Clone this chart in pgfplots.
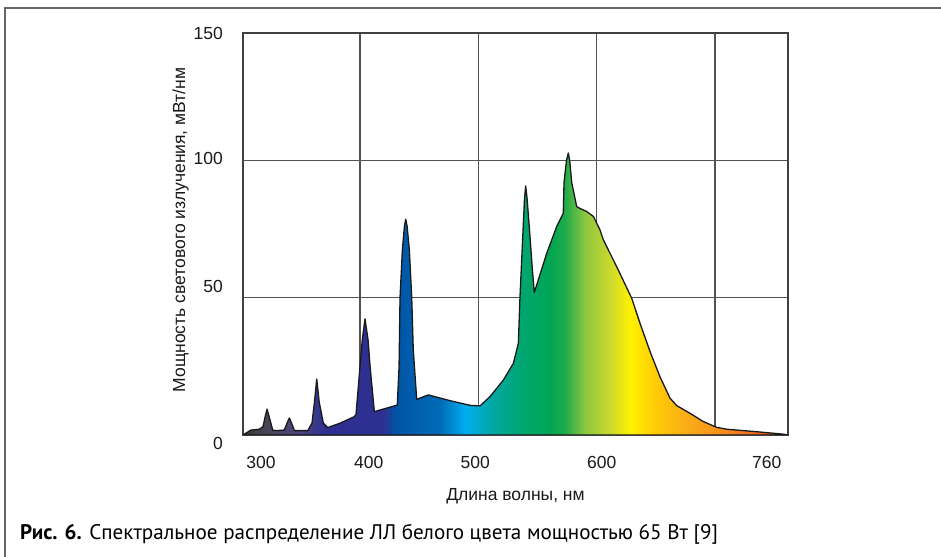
\documentclass[border=0pt]{standalone}
\usepackage{pgfplots}
\pgfplotsset{compat=1.18}
\usepackage{fontspec}
\setmainfont{Liberation Sans}
\newfontfamily\capfont{PT Sans}

\pgfdeclarehorizontalshading{spectrum}{100bp}{%
rgb(0bp)=(0.22,0.22,0.24);
rgb(25bp)=(0.22,0.22,0.24);
rgb(27bp)=(0.28,0.27,0.33);
rgb(30.2bp)=(0.29,0.27,0.50);
rgb(32.5bp)=(0.18,0.19,0.57);
rgb(37.9bp)=(0.18,0.19,0.57);
rgb(39bp)=(0.00,0.33,0.65);
rgb(43.1bp)=(0.00,0.42,0.72);
rgb(45.4bp)=(0.00,0.68,0.94);
rgb(47.7bp)=(0.00,0.66,0.66);
rgb(50.4bp)=(0.00,0.65,0.45);
rgb(53.2bp)=(0.00,0.65,0.32);
rgb(54.5bp)=(0.12,0.67,0.29);
rgb(56.4bp)=(0.55,0.78,0.25);
rgb(58.7bp)=(0.80,0.85,0.18);
rgb(60.5bp)=(1.00,0.95,0.00);
rgb(62.8bp)=(1.00,0.80,0.02);
rgb(65.6bp)=(0.98,0.68,0.09);
rgb(68.3bp)=(0.97,0.58,0.11);
rgb(72.4bp)=(0.94,0.40,0.14);
rgb(75bp)=(0.75,0.22,0.17);
rgb(100bp)=(0.75,0.22,0.17)}

\pgfplotstableread{
x y
301.1 0
304.0 0.8
307.9 1.8
314.9 2.1
318.0 3.0
320.0 7.0
321.4 9.4
323.0 7.0
326.2 1.8
329.0 1.6
336.0 1.8
338.5 4.5
340.3 6.2
342.0 4.5
344.5 1.6
355.8 1.6
359.4 4.3
361.5 12
363.4 20.4
365.5 12
369.0 4.3
372.7 2.7
383.1 4.3
395.2 6.7
396.6 7.5
400.0 25
401.9 34.6
404.2 42.3
406.8 34.6
408.5 25
412.1 8.5
431.5 10.9
433.0 25
433.8 50
435.8 67.4
437.5 76
438.6 78.6
439.8 76
441.7 67.4
443.7 50
445.0 31
447.9 13.0
457.7 14.6
476.1 12.5
493.0 10.8
501.4 10.6
509.9 14.0
521.1 20.0
529.6 26.1
533.8 33.4
534.6 43.1
535.2 50.4
537.5 72
539.0 86
540.0 90.7
541.2 86
543.7 72
545.7 60
547.3 51.9
557.8 66.2
566.2 75.9
571.8 80.8
572.4 92
574.5 100
576.0 102.7
577.2 100
578.9 92
583.1 83.2
585.9 82.5
591.5 81.4
597.2 79.6
602.8 74.7
605.6 71.1
616.9 61.3
629.6 49.8
636.6 40.7
645.1 30.4
653.5 21.2
662.0 13.4
667.6 10.7
678.9 7.9
690.1 4.9
701.4 2.8
709.9 2.1
735.2 1.2
757.7 0.3
761.7 0
}\spd

\begin{document}
\begin{tikzpicture}[x=1bp,y=1bp]
\path[use as bounding box] (0,0) rectangle (941,557);
\draw[line width=2bp, color=black!60] (5,0) -- (5,549) -- (941,549);
\begin{axis}[
  at={(243bp,122bp)}, anchor=south west,
  width=545bp, height=402bp, scale only axis,
  xmin=301.1, xmax=761.7, ymin=0, ymax=146.4,
  xtick={400,500,600,700}, xticklabels={},
  extra x ticks={316.3,407.4,497.4,604.3,743.7},
  extra x tick labels={300,400,500,600,760},
  extra x tick style={grid=none},
  ytick={0,50,100,146.4},
  yticklabels={\raisebox{-8bp}[\height][\depth]{0},\raisebox{11.5bp}[\height][\depth]{50},\raisebox{2bp}[\height][\depth]{100},150},
  xmajorgrids, ymajorgrids,
  major tick length=0pt,
  grid style={line width=1.3bp, color=black!68},
  axis line style={line width=1.3bp, color=black!75},
  tick label style={font=\fontsize{17.5bp}{20bp}\selectfont, text=black!90},
  xticklabel style={anchor=base, yshift=-34bp},
  yticklabel style={anchor=east, inner sep=0pt, xshift=-20bp},
  label style={font=\fontsize{17.5bp}{20bp}\selectfont, text=black!90},
  xlabel={Длина волны, нм},
  xlabel style={at={(axis description cs:0.5,-0.163)}, anchor=base},
  ylabel={Мощность светового излучения, мВт/нм},
  ylabel style={at={(axis description cs:-0.1147,0.51)}, anchor=center, rotate=0},
]
\addplot[draw=black!90, line width=1.3bp, line join=round, shading=spectrum, shade] table[x=x,y=y] {\spd} \closedcycle;
\end{axis}
\node[anchor=base west, inner sep=0pt, font=\capfont\fontsize{21.1bp}{24bp}\selectfont] at (20,17) {\textbf{Рис. 6.} Спектральное распределение ЛЛ белого цвета мощностью 65 Вт [9]};
\end{tikzpicture}
\end{document}
